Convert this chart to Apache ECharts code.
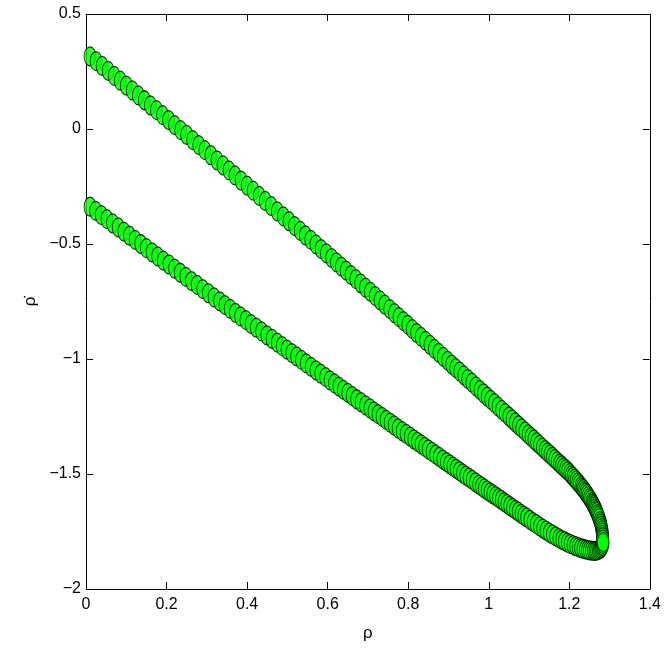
<!DOCTYPE html>
<html>
<head>
<meta charset="utf-8">
<script src="https://cdn.jsdelivr.net/npm/echarts@6/dist/echarts.min.js"></script>
<style>
  html, body { margin: 0; padding: 0; background: #fff; }
  #chart { width: 664px; height: 664px; }
</style>
</head>
<body>
<div id="chart"></div>
<script>
// upper branch (rho, rho-dot) from left to the tip
const upperX = [0.010,0.025,0.040,0.055,0.070,0.085,0.100,0.115,0.130,0.145,0.160,0.175,0.190,0.205,0.220,0.235,0.250,0.265,0.280,0.295,
  0.310,0.325,0.340,0.355,0.370,0.385,0.400,0.415,0.430,0.445,0.460,0.475,0.490,0.504,0.518,0.532,0.545,0.558,0.571,0.584,
  0.597,0.610,0.622,0.634,0.646,0.658,0.670,0.682,0.694,0.706,0.718,0.730,0.742,0.754,0.766,0.777,0.788,0.799,0.810,0.821,
  0.832,0.843,0.854,0.865,0.876,0.887,0.898,0.908,0.918,0.928,0.938,0.948,0.958,0.968,0.978,0.987,0.996,1.005,1.014,1.023,
  1.032,1.041,1.050,1.058,1.066,1.074,1.082,1.090,1.098,1.105,1.112,1.119,1.126,1.133,1.140,1.146,1.152,1.158,1.164,1.170,
  1.176,1.181,1.186,1.191,1.196,1.201,1.205,1.209,1.213,1.217,1.221,1.225,1.229,1.232,1.235,1.238,1.241,1.244,1.247,1.250,
  1.253,1.256,1.258,1.260,1.262,1.264,1.266,1.268,1.270,1.272,1.274,1.276,1.2776,1.2789,1.2801,1.2811,1.2818,1.2824,1.2828,1.283];
const upperY = [0.316,0.295,0.274,0.253,0.231,0.210,0.189,0.168,0.146,0.125,0.103,0.082,0.060,0.039,0.017,-0.005,-0.026,-0.048,-0.070,-0.092,
  -0.114,-0.136,-0.158,-0.180,-0.202,-0.224,-0.246,-0.268,-0.291,-0.313,-0.335,-0.358,-0.380,-0.401,-0.422,-0.443,-0.463,-0.482,-0.502,-0.522,
  -0.541,-0.561,-0.580,-0.598,-0.616,-0.635,-0.653,-0.671,-0.690,-0.708,-0.727,-0.745,-0.764,-0.783,-0.801,-0.818,-0.835,-0.852,-0.870,-0.887,
  -0.904,-0.921,-0.939,-0.956,-0.973,-0.991,-1.008,-1.024,-1.040,-1.055,-1.071,-1.087,-1.103,-1.119,-1.135,-1.149,-1.164,-1.178,-1.192,-1.207,
  -1.221,-1.235,-1.250,-1.263,-1.276,-1.289,-1.302,-1.315,-1.328,-1.339,-1.350,-1.362,-1.373,-1.385,-1.396,-1.406,-1.415,-1.425,-1.435,-1.445,
  -1.455,-1.463,-1.471,-1.479,-1.487,-1.496,-1.505,-1.512,-1.520,-1.528,-1.536,-1.544,-1.553,-1.560,-1.566,-1.574,-1.581,-1.588,-1.596,-1.605,
  -1.613,-1.622,-1.629,-1.635,-1.642,-1.649,-1.657,-1.665,-1.674,-1.683,-1.693,-1.705,-1.715,-1.725,-1.735,-1.745,-1.755,-1.765,-1.775,-1.785];

// lower branch, left to the tip
const lowerX = [0.010,0.024,0.038,0.052,0.066,0.080,0.094,0.108,0.122,0.136,0.150,0.164,0.178,0.192,0.206,0.220,0.234,0.248,0.262,0.276,
  0.290,0.304,0.318,0.332,0.345,0.358,0.371,0.384,0.397,0.410,0.423,0.436,0.449,0.462,0.475,0.487,0.499,0.511,0.523,0.535,
  0.547,0.559,0.571,0.583,0.595,0.606,0.617,0.628,0.639,0.650,0.661,0.672,0.683,0.694,0.705,0.715,0.725,0.735,0.745,0.755,
  0.765,0.775,0.785,0.795,0.805,0.814,0.823,0.832,0.841,0.850,0.859,0.868,0.877,0.886,0.895,0.903,0.911,0.919,0.927,0.935,
  0.943,0.951,0.959,0.967,0.975,0.982,0.989,0.996,1.003,1.010,1.017,1.024,1.031,1.038,1.045,1.052,1.059,1.066,1.073,1.080,
  1.087,1.094,1.102,1.110,1.118,1.126,1.134,1.142,1.150,1.158,1.166,1.174,1.181,1.188,1.195,1.202,1.209,1.216,1.222,1.228,
  1.234,1.240,1.245,1.250,1.255,1.260,1.264,1.268,1.272,1.275,1.278,1.280,1.282,1.283,1.284];
const lowerY = [-0.338,-0.356,-0.374,-0.392,-0.410,-0.428,-0.446,-0.464,-0.482,-0.500,-0.518,-0.536,-0.554,-0.572,-0.589,-0.607,-0.625,-0.643,-0.661,-0.678,
  -0.696,-0.714,-0.732,-0.749,-0.766,-0.782,-0.799,-0.815,-0.831,-0.848,-0.864,-0.880,-0.897,-0.913,-0.929,-0.944,-0.959,-0.974,-0.989,-1.004,
  -1.019,-1.034,-1.049,-1.064,-1.079,-1.093,-1.106,-1.120,-1.134,-1.147,-1.161,-1.175,-1.188,-1.202,-1.215,-1.228,-1.240,-1.252,-1.265,-1.277,
  -1.289,-1.302,-1.314,-1.326,-1.338,-1.349,-1.360,-1.371,-1.382,-1.393,-1.404,-1.415,-1.426,-1.437,-1.448,-1.458,-1.468,-1.478,-1.487,-1.497,
  -1.507,-1.516,-1.526,-1.536,-1.546,-1.554,-1.563,-1.571,-1.580,-1.588,-1.596,-1.605,-1.613,-1.622,-1.630,-1.639,-1.647,-1.656,-1.664,-1.673,
  -1.681,-1.689,-1.699,-1.709,-1.718,-1.728,-1.737,-1.746,-1.755,-1.763,-1.771,-1.779,-1.786,-1.792,-1.798,-1.804,-1.809,-1.814,-1.818,-1.822,
  -1.825,-1.828,-1.830,-1.832,-1.833,-1.834,-1.834,-1.833,-1.831,-1.828,-1.824,-1.819,-1.812,-1.804,-1.796];

function pairs(xs, ys) {
  return xs.map((x, i) => [x, ys[i]]);
}

const chart = echarts.init(document.getElementById('chart'));
const font = '"Liberation Sans Narrow", "Liberation Sans", Arial, sans-serif';
const minus = v => String(v).replace('-', '\u2212');

const markerStyle = {
  color: '#00ff00',
  borderColor: '#000',
  borderWidth: 1
};

const boxLine = { onZero: false, lineStyle: { color: '#000', width: 1 } };
const boxTick = { inside: true, length: 7, lineStyle: { color: '#000' } };

chart.setOption({
  animation: false,
  grid: { left: 86, right: 10, top: 14, bottom: 75 },
  xAxis: [{
    type: 'value', min: 0, max: 1.4, interval: 0.2,
    name: 'ρ', nameLocation: 'middle', nameGap: 36,
    nameTextStyle: { color: '#000', fontSize: 17, fontFamily: font },
    axisLine: boxLine,
    axisTick: boxTick,
    axisLabel: { color: '#000', fontSize: 16, fontFamily: font, margin: 8 },
    splitLine: { show: false }
  }, {
    type: 'value', min: 0, max: 1.4, interval: 0.2, position: 'top',
    axisLine: boxLine,
    axisTick: boxTick,
    axisLabel: { show: false },
    splitLine: { show: false }
  }],
  yAxis: [{
    type: 'value', min: -2, max: 0.5, interval: 0.5,
    name: 'ρ\u0307', nameLocation: 'middle', nameGap: 42, nameRotate: 90,
    nameTextStyle: { color: '#000', fontSize: 17, fontFamily: font },
    axisLine: boxLine,
    axisTick: boxTick,
    axisLabel: { color: '#000', fontSize: 16, fontFamily: font, margin: 5, formatter: minus },
    splitLine: { show: false }
  }, {
    type: 'value', min: -2, max: 0.5, interval: 0.5, position: 'right',
    axisLine: boxLine,
    axisTick: boxTick,
    axisLabel: { show: false },
    splitLine: { show: false }
  }],
  series: [
    {
      type: 'scatter', name: 'upper', data: pairs(upperX, upperY),
      symbol: 'circle', symbolSize: [12, 19], itemStyle: markerStyle
    },
    {
      type: 'scatter', name: 'lower', data: pairs(lowerX, lowerY),
      symbol: 'circle', symbolSize: [12, 19], itemStyle: markerStyle
    }
  ]
});
</script>
</body>
</html>
